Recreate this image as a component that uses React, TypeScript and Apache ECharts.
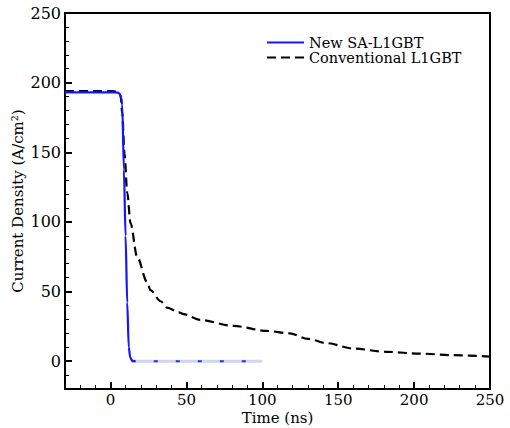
import React, { useEffect, useRef } from "react";
import * as echarts from "echarts";

const legendNames = ["New SA-L1GBT", "Conventional L1GBT"];

const blueTime = [-30, 0, 5, 6, 7, 7.7, 8.8, 9.9, 11, 12, 13, 14.3, 16];
const blueJ = [193, 193, 192.8, 192, 189, 184, 137.5, 90, 42, 10, 2.5, 0.3, 0];

const tailTime = [14, 30, 50, 70, 90, 100];
const tailJ = [0, 0, 0, 0, 0, 0];

const convTime = [-30, 0, 5, 6.6, 7.7, 9.2, 11, 13.2, 17.5, 24, 26.3, 33, 37.3, 45, 48.2, 59, 81, 103, 118, 130, 142.5, 160, 182, 204, 226, 250];
const convJ = [194, 194, 193.5, 191, 178, 149, 121, 99, 75, 57, 51, 43, 38.4, 35, 33.7, 29.6, 25.3, 21.7, 20, 16, 12.9, 9, 6.7, 5.4, 4.3, 3.3];

const yMajor = [0, 50, 100, 150, 200, 250];
const xMajor = [0, 50, 100, 150, 200, 250];

const FONT = "'DejaVu Serif', 'Liberation Serif', serif";

export default function App() {
  const ref = useRef<HTMLDivElement>(null);
  useEffect(() => {
    if (!ref.current) return;
    const chart = echarts.init(ref.current, null, { renderer: "svg" });
    const zip = (a: number[], b: number[]) => a.map((v, i) => [v, b[i]]);
    const baseX = { type: "value", min: -30, max: 250, splitLine: { show: false } } as any;
    const baseY = { type: "value", min: -20, max: 250, splitLine: { show: false } } as any;
    const txt = { fontFamily: FONT, fontSize: 16, color: "#000" };
    const nameTxt = { fontFamily: FONT, fontSize: 15, color: "#000" };
    chart.setOption({
      animation: false,
      backgroundColor: "#ffffff",
      grid: {
        left: 65, right: 20, top: 13, bottom: 39,
        outerBoundsMode: "none",
        containLabel: false,
        show: true, borderColor: "#000", borderWidth: 2, backgroundColor: "transparent",
      },
      legend: {
        data: legendNames,
        orient: "vertical",
        left: 261,
        top: 30,
        itemWidth: 37,
        itemHeight: 10,
        itemGap: 0,
        itemStyle: { opacity: 0 },
        textStyle: { fontFamily: FONT, fontSize: 14.5, lineHeight: 15, color: "#000" },
      },
      xAxis: [
        {
          ...baseX,
          name: "Time (ns)",
          nameLocation: "middle",
          nameGap: 21,
          nameMoveOverlap: false,
          nameTextStyle: { ...nameTxt, verticalAlign: "top" },
          axisLine: { show: true, onZero: false, lineStyle: { color: "#000", width: 2 } },
          axisTick: { show: true, inside: true, length: 7, lineStyle: { color: "#000", width: 2 }, customValues: xMajor },
          axisLabel: { ...txt, fontSize: 15, customValues: xMajor, margin: 3 },
        },
        {
          ...baseX,
          interval: 10,
          position: "bottom",
          axisLine: { show: false, onZero: false },
          axisTick: { show: true, inside: true, length: 4, lineStyle: { color: "#000", width: 1 } },
          axisLabel: { show: false },
        },
      ],
      yAxis: [
        {
          ...baseY,
          name: "Current Density (A/cm²)",
          nameLocation: "middle",
          nameGap: 40,
          nameMoveOverlap: false,
          nameTextStyle: { ...nameTxt, verticalAlign: "bottom" },
          axisLine: { show: true, onZero: false, lineStyle: { color: "#000", width: 2 } },
          axisTick: { show: true, inside: true, length: 7, lineStyle: { color: "#000", width: 2 }, customValues: yMajor },
          axisLabel: { ...txt, customValues: yMajor, margin: 4 },
        },
        {
          ...baseY,
          interval: 10,
          position: "left",
          axisLine: { show: false, onZero: false },
          axisTick: { show: true, inside: true, length: 4, lineStyle: { color: "#000", width: 1 } },
          axisLabel: { show: false },
        },
      ],
      series: [
        {
          name: "tail-light",
          type: "line",
          data: zip(tailTime, tailJ),
          symbol: "none",
          lineStyle: { color: "#d0d4f8", width: 3 },
          z: 2,
        },
        {
          name: "tail-dash",
          type: "line",
          data: zip(tailTime, tailJ),
          symbol: "none",
          lineStyle: { color: "#2a2aff", width: 2, type: [4, 18] },
          z: 3,
        },
        {
          name: legendNames[1],
          type: "line",
          data: zip(convTime, convJ),
          symbol: "none",
          smooth: 0.3,
          smoothMonotone: "x",
          itemStyle: { color: "#000" },
          lineStyle: { color: "#000", width: 2.2, type: [9, 5] },
          z: 4,
        },
        {
          name: legendNames[0],
          type: "line",
          data: zip(blueTime, blueJ),
          symbol: "none",
          smooth: 0.3,
          smoothMonotone: "x",
          itemStyle: { color: "#1515ff" },
          lineStyle: { color: "#1515ff", width: 2.2 },
          z: 5,
        },
      ],
    });
    return () => chart.dispose();
  }, []);
  return <div ref={ref} style={{ position: "fixed", left: 0, top: 0, width: 510, height: 428 }} />;
}
